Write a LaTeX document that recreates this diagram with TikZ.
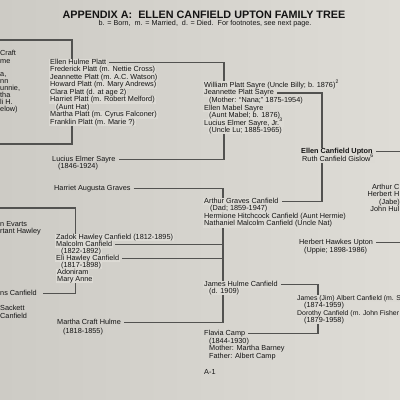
\documentclass[tikz,border=0pt]{standalone}
\usepackage{fontspec}
\setmainfont{Liberation Sans}
\usetikzlibrary{calc}
\definecolor{pageL}{HTML}{CDCBC5}
\definecolor{pageR}{HTML}{DEDCD6}
\definecolor{patch}{HTML}{DCDAD4}
\definecolor{ink}{HTML}{141414}
\definecolor{linec}{HTML}{525250}
\pgfdeclarelayer{bg}\pgfdeclarelayer{lines}\pgfsetlayers{bg,lines,main}
\tikzset{
  txt/.style={anchor=base west, inner xsep=1pt, inner ysep=0pt, text height=5.6pt, text depth=1.9pt, text=ink, font=\fontsize{7.3}{7.5}\selectfont},
  cov/.style={txt, fill=patch},
  frag/.style={txt, inner xsep=0pt},
  fragr/.style={cov, inner xsep=0pt, anchor=base east},
  small/.style={cov, inner xsep=0pt, font=\fontsize{6.9}{7.5}\selectfont},
  tree/.style={draw=linec, line width=1.6pt, shorten <=2pt},
  treeb/.style={tree, shorten >=2pt}
}
\begin{document}
\begin{tikzpicture}[x=1pt,y=-1pt]
\useasboundingbox (0,0) rectangle (400,400);
\begin{pgfonlayer}{bg}
\shade[left color=pageL, right color=pageR] (0,0) rectangle (400,400);
\end{pgfonlayer}
\clip (0,0) rectangle (400,400);
% title
\node[font=\fontsize{10.8}{12}\selectfont\bfseries, text=ink, inner sep=0pt] (title) at (204,14.5) {APPENDIX A:\ \ ELLEN CANFIELD UPTON FAMILY TREE};
\node[font=\fontsize{7.2}{8}\selectfont, text=ink, inner sep=0pt] (sub) at (205,24) {b. = Born,\ \ m. = Married,\ \ d. = Died.\ \ For footnotes, see next page.};
% left fragments
\node[frag] (f1) at (0,55.5) {Craft};
\node[frag] (f2) at (0,63.5) {me};
\node[frag] (f3) at (0,76.5) {a,};
\node[frag] (f4) at (0,83.5) {nn};
\node[frag] (f5) at (0,90.5) {unnie,};
\node[frag] (f6) at (0,97.5) {tha};
\node[frag] (f7) at (0,104.5) {li H.};
\node[frag] (f8) at (0,111.5) {elow)};
\node[frag] (f9) at (0,226.5) {n Evarts};
\node[frag] (f10) at (0,233.5) {rtant Hawley};
\node[frag] (f11) at (0,295.5) {ns Canfield};
\node[frag] (f12) at (0,310.5) {Sackett};
\node[frag] (f13) at (0,318.5) {Canfield};
% Platt block
\node[cov] (e1) at (49,64.5) {Ellen Hulme Platt};
\node[cov] (e2) at (49,71.95) {Frederick Platt (m. Nettie Cross)};
\node[cov] (e3) at (49,79.4) {Jeannette Platt (m. A.C. Watson)};
\node[cov] (e4) at (49,86.85) {Howard Platt (m. Mary Andrews)};
\node[cov] (e5) at (49,94.3) {Clara Platt (d. at age 2)};
\node[cov] (e6) at (49,101.75) {Harriet Platt (m. Robert Melford)};
\node[cov] (e7) at (55,109.2) {(Aunt Hat)};
\node[cov] (e8) at (49,116.65) {Martha Platt (m. Cyrus Falconer)};
\node[cov] (e9) at (49,124.1) {Franklin Platt (m. Marie ?)};
% Lucius, Harriet
\node[txt] (l1) at (51,161.5) {Lucius Elmer Sayre};
\node[txt] (l2) at (57,168.5) {(1846-1924)};
\node[txt] (h1) at (53,190.5) {Harriet Augusta Graves};
% Zadok block
\node[cov] (z1) at (55,239.5) {Zadok Hawley Canfield (1812-1895)};
\node[cov] (z2) at (55,246.5) {Malcolm Canfield};
\node[cov] (z3) at (60,253.5) {(1822-1892)};
\node[cov] (z4) at (55,260.3) {Eli Hawley Canfield};
\node[cov] (z5) at (60,267.3) {(1817-1898)};
\node[cov] (z6) at (56,274.5) {Adoniram};
\node[cov] (z7) at (56,281.5) {Mary Anne};
% Martha Craft Hulme
\node[txt] (m1) at (56,324.3) {Martha Craft Hulme};
\node[txt] (m2) at (62,333.5) {(1818-1855)};
% Sayre block
\node[cov] (s1) at (203,87) {William Platt Sayre (Uncle Billy; b. 1876)\textsuperscript{2}};
\node[cov] (s2) at (203,94.8) {Jeannette Platt Sayre};
\node[cov] (s3) at (208,102.6) {(Mother: “Nana;” 1875-1954)};
\node[cov] (s4) at (203,110.4) {Ellen Mabel Sayre};
\node[cov] (s5) at (208,117.6) {(Aunt Mabel; b. 1876)};
\node[cov] (s6) at (203,125) {Lucius Elmer Sayre, Jr.\textsuperscript{3}};
\node[cov] (s7) at (208,132.5) {(Uncle Lu; 1885-1965)};
% Ellen Canfield Upton
\node[cov, font=\fontsize{7.3}{7.5}\selectfont\bfseries] (u1) at (300,153.5) {Ellen Canfield Upton};
\node[cov] (u2) at (301,161) {Ruth Canfield Gislow\textsuperscript{6}};
% Arthur Graves block
\node[cov] (a1) at (203,203.3) {Arthur Graves Canfield};
\node[cov] (a2) at (209,210.8) {(Dad; 1859-1947)};
\node[cov] (a3) at (203,218.3) {Hermione Hitchcock Canfield (Aunt Hermie)};
\node[cov] (a4) at (203,225.8) {Nathaniel Malcolm Canfield (Uncle Nat)};
% right cropped block
\node[fragr] (r1) at (399.5,189.5) {Arthur C};
\node[fragr] (r2) at (399.5,196.8) {Herbert H};
\node[cov] (r3) at (378,204) {(Jabe)};
\node[fragr] (r4) at (399.5,211.3) {John Hul};
% Herbert Hawkes Upton
\node[txt] (hh1) at (298,244.5) {Herbert Hawkes Upton};
\node[txt] (hh2) at (303,252) {(Uppie; 1898-1986)};
% James Hulme Canfield
\node[cov] (j1) at (203,286.5) {James Hulme Canfield};
\node[cov] (j2) at (208,293.5) {(d. 1909)};
% Jim / Dorothy
\node[small] (k1) at (297,300.5) {James (Jim) Albert Canfield (m. S};
\node[cov] (k2) at (303,307.8) {(1874-1959)};
\node[small] (k3) at (297,315.2) {Dorothy Canfield (m. John Fisher};
\node[cov] (k4) at (303,322.5) {(1879-1958)};
% Flavia Camp
\node[txt] (fc1) at (203,335.3) {Flavia Camp};
\node[txt] (fc2) at (208,343) {(1844-1930)};
\node[txt] (fc3) at (208,350.5) {Mother: Martha Barney};
\node[txt] (fc4) at (208,358) {Father: Albert Camp};
\node[txt] (pg) at (203,374) {A-1};
% bracket coordinates
\coordinate (xA) at (72,0);
\coordinate (xB) at (224,0);
\coordinate (xC) at (322,0);
\coordinate (xF) at (223,0);
\coordinate (xH) at (318,0);
\coordinate (xI) at (75.5,0);
\coordinate (edgeR) at (400,0);
\coordinate (tA) at (0,40);
\coordinate (bA) at (0,144);
\coordinate (tI) at (0,208);
\begin{pgfonlayer}{lines}
\draw[draw=linec, line width=1.6pt] (tA) -- (tA -| xA) -- (bA -| xA) -- (bA);
\draw[treeb] (e1.east) -- (e1.east -| xB) -- (l1.east -| xB) -- (l1.east);
\draw[treeb] (s2.east) -- (s2.east -| xC) -- (a1.east -| xC) -- (a1.east);
\draw[tree] (u1.east) -- (u1.east -| edgeR);
\draw[tree] (hh1.east) -- (hh1.east -| edgeR);
\draw[treeb] (h1.east) -- (h1.east -| xF) -- (z4.east -| xF) -- (z4.east);
\draw[treeb] (z2.east) -- (z2.east -| xF) -- (m1.east -| xF) -- (m1.east);
\draw[treeb] (j1.east) -- (j1.east -| xH) -- (fc1.east -| xH) -- (fc1.east);
\draw[draw=linec, line width=1.6pt, shorten >=6pt] (tI) -- (tI -| xI) -- (f11.east -| xI) -- (f11.east);
\end{pgfonlayer}
\end{tikzpicture}
\end{document}
